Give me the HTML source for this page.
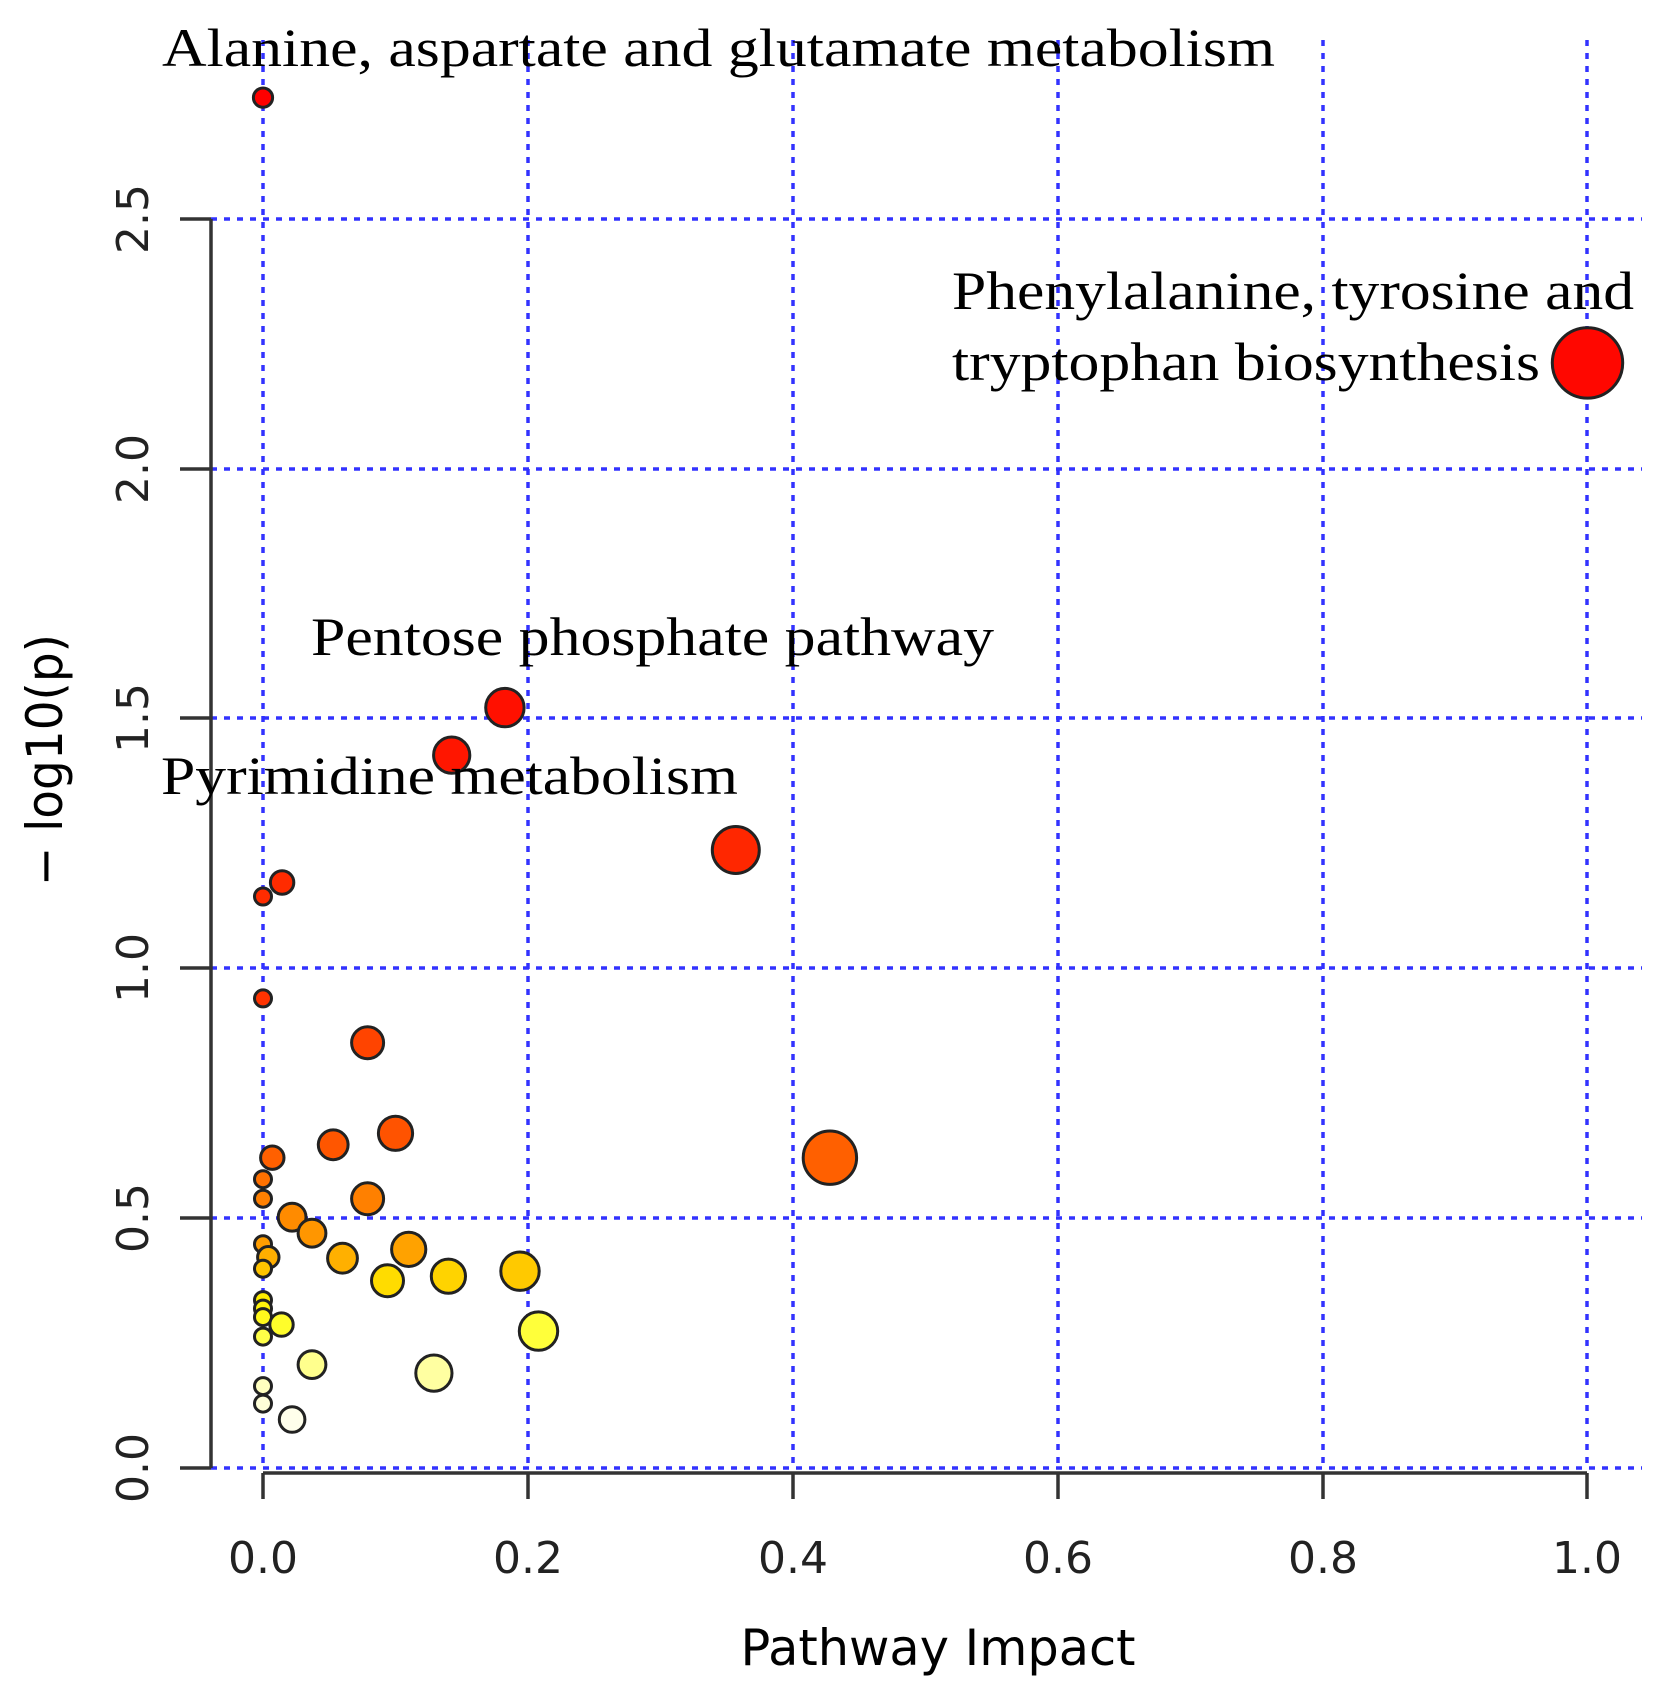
<!DOCTYPE html>
<html><head><meta charset="utf-8"><style>
html,body{margin:0;padding:0;background:#fff;}
svg{display:block;}
.tk{font-family:"DejaVu Sans","Liberation Sans",sans-serif;font-size:44px;fill:#222;}
.lb{font-family:"Liberation Serif",serif;font-size:54px;fill:#000;}
</style></head><body>
<svg id="s" width="1663" height="1688" viewBox="0 0 1663 1688" xmlns="http://www.w3.org/2000/svg">
<g stroke="#0000ff" stroke-width="3.5" stroke-dasharray="6,7" fill="none" opacity="0.8">
<line x1="263" y1="40" x2="263" y2="1468"/>
<line x1="528" y1="40" x2="528" y2="1468"/>
<line x1="793" y1="40" x2="793" y2="1468"/>
<line x1="1058" y1="40" x2="1058" y2="1468"/>
<line x1="1323" y1="40" x2="1323" y2="1468"/>
<line x1="1587" y1="40" x2="1587" y2="1468"/>
<line x1="211" y1="1468" x2="1642" y2="1468"/>
<line x1="211" y1="1218" x2="1642" y2="1218"/>
<line x1="211" y1="968" x2="1642" y2="968"/>
<line x1="211" y1="718" x2="1642" y2="718"/>
<line x1="211" y1="469" x2="1642" y2="469"/>
<line x1="211" y1="219" x2="1642" y2="219"/>
</g>
<g stroke="#333" stroke-width="3.5" fill="none">
<line x1="211" y1="219" x2="211" y2="1468"/>
<line x1="180" y1="219" x2="211" y2="219"/>
<line x1="180" y1="469" x2="211" y2="469"/>
<line x1="180" y1="718" x2="211" y2="718"/>
<line x1="180" y1="968" x2="211" y2="968"/>
<line x1="180" y1="1218" x2="211" y2="1218"/>
<line x1="180" y1="1468" x2="211" y2="1468"/>
<line x1="263" y1="1473" x2="1587" y2="1473"/>
<line x1="263" y1="1473" x2="263" y2="1499"/>
<line x1="528" y1="1473" x2="528" y2="1499"/>
<line x1="793" y1="1473" x2="793" y2="1499"/>
<line x1="1058" y1="1473" x2="1058" y2="1499"/>
<line x1="1323" y1="1473" x2="1323" y2="1499"/>
<line x1="1587" y1="1473" x2="1587" y2="1499"/>
</g>
<g class="tk" text-anchor="middle">
<text x="263" y="1573">0.0</text><text x="528" y="1573">0.2</text><text x="793" y="1573">0.4</text>
<text x="1058" y="1573">0.6</text><text x="1323" y="1573">0.8</text><text x="1587" y="1573">1.0</text>
<text transform="translate(148,1468) rotate(-90)">0.0</text>
<text transform="translate(148,1218) rotate(-90)">0.5</text>
<text transform="translate(148,968) rotate(-90)">1.0</text>
<text transform="translate(148,718) rotate(-90)">1.5</text>
<text transform="translate(148,469) rotate(-90)">2.0</text>
<text transform="translate(148,219) rotate(-90)">2.5</text>
</g>
<text x="938" y="1665" text-anchor="middle" font-family="DejaVu Sans, Liberation Sans, sans-serif" font-size="50" fill="#000" textLength="395" lengthAdjust="spacingAndGlyphs">Pathway Impact</text>
<text transform="translate(62,760) rotate(-90)" text-anchor="middle" font-family="DejaVu Sans, Liberation Sans, sans-serif" font-size="50" fill="#000" textLength="252" lengthAdjust="spacingAndGlyphs">− log10(p)</text>
<g id="pts"></g>
<g class="lb">
<text x="162" y="66" textLength="1113" lengthAdjust="spacingAndGlyphs">Alanine, aspartate and glutamate metabolism</text>
<text x="952" y="309" textLength="682" lengthAdjust="spacingAndGlyphs">Phenylalanine, tyrosine and</text>
<text x="952" y="380" textLength="588" lengthAdjust="spacingAndGlyphs">tryptophan biosynthesis</text>
<text x="311" y="655" textLength="683" lengthAdjust="spacingAndGlyphs">Pentose phosphate pathway</text>
<text x="161" y="794" textLength="577" lengthAdjust="spacingAndGlyphs">Pyrimidine metabolism</text>
</g>
</svg>
<script>
var pts=[[0,2.743,9],[1,2.212,33],[0.1826,1.522,18],[0.1425,1.427,17],[0.357,1.237,22],[0.0144,1.172,11],[0,1.144,8],[0,0.94,8],[0.079,0.851,15],[0.1,0.67,16],[0.053,0.647,14],[0.007,0.621,11],[0.428,0.621,25],[0,0.578,8],[0,0.539,8],[0.079,0.539,15],[0.022,0.502,13],[0.037,0.47,13],[0,0.448,8],[0.004,0.422,10],[0,0.399,8],[0.06,0.42,14],[0.11,0.4375,16],[0.094,0.375,15],[0.14,0.384,16],[0.194,0.394,18],[0.208,0.274,18],[0,0.336,8],[0,0.319,8],[0,0.302,8],[0,0.263,8],[0.014,0.287,11],[0.037,0.207,13],[0.129,0.19,17],[0,0.164,8],[0,0.129,8],[0.022,0.097,12]];
var stops=[[0.1,[255,255,235]],[0.16,[255,255,195]],[0.2,[255,255,150]],[0.28,[255,255,50]],[0.33,[255,240,0]],[0.37,[255,225,0]],[0.39,[255,205,0]],[0.42,[255,176,0]],[0.44,[255,160,0]],[0.5,[255,140,0]],[0.54,[255,128,0]],[0.62,[255,96,0]],[0.65,[255,85,0]],[0.85,[255,68,0]],[0.94,[255,51,0]],[1.2,[255,42,0]],[1.5,[255,16,0]],[2.7,[255,0,0]]];
function col(y){if(y<=stops[0][0])return stops[0][1];for(var i=1;i<stops.length;i++){if(y<=stops[i][0]){var a=stops[i-1],b=stops[i],t=(y-a[0])/(b[0]-a[0]);return a[1].map(function(v,k){return Math.round(v+(b[1][k]-v)*t)});}}return stops[stops.length-1][1];}
var g=document.getElementById('pts'),h='';
pts.forEach(function(p){var c=col(p[1]);var x=263+1324.5*p[0],y=1468-499.6*p[1],r=p[2]*1.066;
h+='<circle cx="'+x.toFixed(1)+'" cy="'+y.toFixed(1)+'" r="'+r.toFixed(1)+'" fill="rgb('+c.join(',')+')" stroke="#222" stroke-width="3"/>';});
g.innerHTML=h;
</script>
</body></html>
